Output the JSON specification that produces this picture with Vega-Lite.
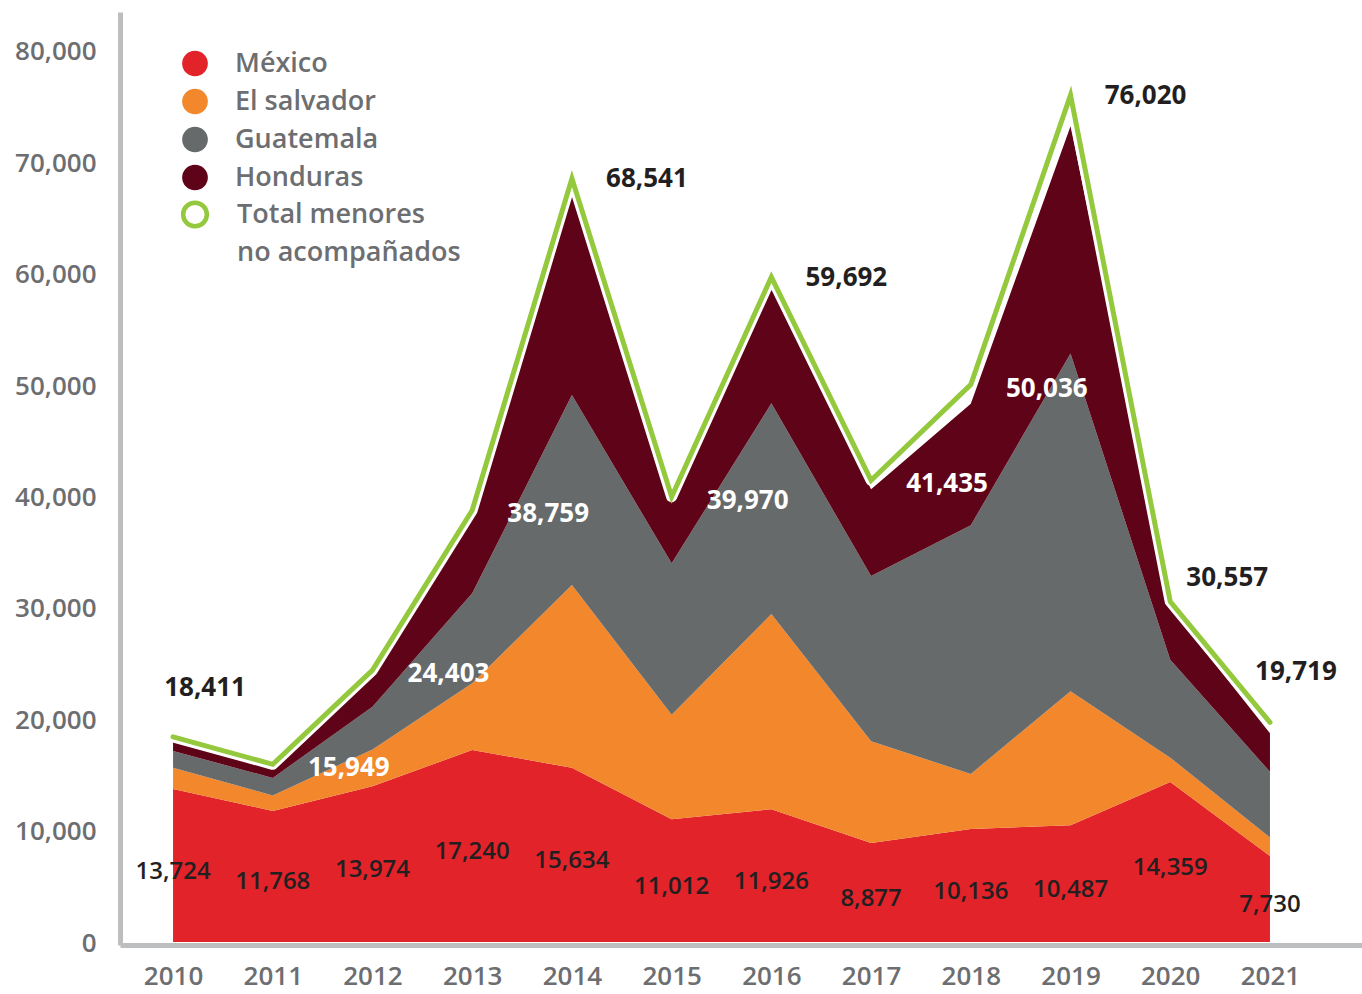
{
  "$schema": "https://vega.github.io/schema/vega-lite/v6.json",
  "width": 1242,
  "height": 933,
  "autosize": {"type": "none"},
  "padding": {"left": 120, "top": 12, "right": 0, "bottom": 49},
  "background": "white",
  "config": {"view": {"stroke": null}, "font": "Open Sans", "style": {"guide-label": {"lineHeight": 38}}},
  "datasets": {
    "d": [
      {"year": 2010, "México": 13724, "El salvador": 1910, "Guatemala": 1517, "Honduras": 968, "Total": 18411},
      {"year": 2011, "México": 11768, "El salvador": 1394, "Guatemala": 1565, "Honduras": 974, "Total": 15949},
      {"year": 2012, "México": 13974, "El salvador": 3314, "Guatemala": 3835, "Honduras": 2997, "Total": 24403},
      {"year": 2013, "México": 17240, "El salvador": 5990, "Guatemala": 8068, "Honduras": 6747, "Total": 38759},
      {"year": 2014, "México": 15634, "El salvador": 16404, "Guatemala": 17057, "Honduras": 18244, "Total": 68541},
      {"year": 2015, "México": 11012, "El salvador": 9389, "Guatemala": 13589, "Honduras": 5409, "Total": 39970},
      {"year": 2016, "México": 11926, "El salvador": 17512, "Guatemala": 18913, "Honduras": 10468, "Total": 59692},
      {"year": 2017, "México": 8877, "El salvador": 9143, "Guatemala": 14827, "Honduras": 7784, "Total": 41435},
      {"year": 2018, "México": 10136, "El salvador": 4949, "Guatemala": 22327, "Honduras": 10913, "Total": 50036},
      {"year": 2019, "México": 10487, "El salvador": 12021, "Guatemala": 30329, "Honduras": 20398, "Total": 76020},
      {"year": 2020, "México": 14359, "El salvador": 2189, "Guatemala": 8786, "Honduras": 4692, "Total": 30557},
      {"year": 2021, "México": 7730, "El salvador": 1650, "Guatemala": 5900, "Honduras": 3460, "Total": 19719}
    ]
  },
  "data": {"name": "d"},
  "encoding": {
    "x": {
      "field": "year",
      "type": "quantitative",
      "scale": {"domain": [2009.468, 2021.923], "nice": false, "zero": false},
      "axis": {
        "values": [2010, 2011, 2012, 2013, 2014, 2015, 2016, 2017, 2018, 2019, 2020, 2021],
        "format": "d",
        "title": null,
        "ticks": false,
        "grid": false,
        "domainColor": "#bcbec0",
        "domainWidth": 5,
        "labelFont": "Open Sans",
        "labelFontSize": 26,
        "labelFontWeight": 600,
        "labelColor": "#6d6e71",
        "labelPadding": 18,
        "labelFlush": false,
        "labelOverlap": false
      }
    }
  },
  "layer": [
    {
      "transform": [
        {"fold": ["México", "El salvador", "Guatemala", "Honduras"], "as": ["country", "value"]},
        {"window": [{"op": "row_number", "as": "stack_rank"}], "groupby": ["year"]}
      ],
      "mark": {"type": "area", "opacity": 1, "interpolate": "linear"},
      "encoding": {
        "y": {
          "field": "value",
          "type": "quantitative",
          "stack": "zero",
          "scale": {"domain": [-269, 83483], "nice": false, "zero": false},
          "axis": {
            "values": [0, 10000, 20000, 30000, 40000, 50000, 60000, 70000, 80000],
            "format": ",.0f",
            "title": null,
            "ticks": false,
            "grid": false,
            "domainColor": "#bcbec0",
            "domainWidth": 5,
            "labelFont": "Open Sans",
            "labelFontSize": 26,
            "labelFontWeight": 600,
            "labelColor": "#6d6e71",
            "labelPadding": 24,
            "labelOffset": 1,
            "labelOverlap": false,
            "labelFlush": false
          }
        },
        "order": {"field": "stack_rank", "type": "quantitative", "sort": "ascending"},
        "color": {
          "field": "country",
          "type": "nominal",
          "scale": {
            "domain": ["México", "El salvador", "Guatemala", "Honduras"],
            "range": ["#e2232a", "#f3872b", "#676a6b", "#5f0418"]
          },
          "legend": {
            "title": null,
            "orient": "none",
            "legendX": 61,
            "legendY": 37.5,
            "padding": 0,
            "symbolType": "circle",
            "symbolSize": 660,
            "symbolOpacity": 1,
            "labelFont": "Open Sans",
            "labelFontSize": 27,
            "labelFontWeight": 600,
            "labelColor": "#6d6e71",
            "labelOffset": 26,
            "labelLimit": 400,
            "rowPadding": 11
          }
        }
      }
    },
    {
      "mark": {"type": "line", "stroke": "#ffffff", "strokeWidth": 11, "strokeJoin": "round", "strokeCap": "round"},
      "encoding": {
        "y": {"field": "Total", "type": "quantitative", "scale": {"domain": [-269, 83483], "nice": false, "zero": false}, "axis": null}
      }
    },
    {
      "mark": {"type": "line", "strokeWidth": 5, "strokeJoin": "miter", "strokeCap": "round"},
      "encoding": {
        "y": {"field": "Total", "type": "quantitative", "scale": {"domain": [-269, 83483], "nice": false, "zero": false}, "axis": null},
        "stroke": {
          "datum": "Total menores no acompañados",
          "type": "nominal",
          "scale": {"domain": ["Total menores no acompañados"], "range": ["#94c83d"]},
          "legend": {
            "title": null,
            "orient": "none",
            "legendX": 60.5,
            "legendY": 188,
            "padding": 0,
            "symbolType": "circle",
            "symbolSize": 560,
            "symbolStrokeWidth": 4.5,
            "symbolFillColor": "#ffffff",
            "symbolOpacity": 1,
            "labelFont": "Open Sans",
            "labelFontSize": 27,
            "labelFontWeight": 600,
            "labelColor": "#6d6e71",
            "labelOffset": 27.5,
            "labelLimit": 400,
            "labelExpr": "datum.label == 'Total menores no acompañados' ? ['Total menores', 'no acompañados'] : datum.label"
          }
        }
      }
    },
    {
      "mark": {"type": "text", "font": "Open Sans", "fontSize": 24, "fontWeight": 600, "color": "#231f20", "align": "center", "baseline": "middle", "dy": 6},
      "encoding": {
        "y": {"field": "México", "type": "quantitative", "scale": {"domain": [-538, 166966], "nice": false, "zero": false}, "axis": null},
        "text": {"field": "México", "type": "quantitative", "format": ","}
      }
    },
    {
      "transform": [{"filter": {"field": "year", "oneOf": [2011, 2012, 2013, 2015, 2017, 2018]}}],
      "mark": {"type": "text", "font": "Open Sans", "fontSize": 26, "fontWeight": 700, "color": "#ffffff", "align": "center", "baseline": "middle", "dx": 76, "dy": 4},
      "encoding": {
        "y": {"field": "Total", "type": "quantitative", "scale": {"domain": [-269, 83483], "nice": false, "zero": false}, "axis": null},
        "text": {"field": "Total", "type": "quantitative", "format": ","}
      }
    },
    {
      "transform": [{"filter": {"field": "year", "oneOf": [2014, 2016, 2019]}}],
      "mark": {"type": "text", "font": "Open Sans", "fontSize": 26, "fontWeight": 700, "color": "#231f20", "align": "center", "baseline": "middle", "dx": 75, "dy": 1},
      "encoding": {
        "y": {"field": "Total", "type": "quantitative", "scale": {"domain": [-269, 83483], "nice": false, "zero": false}, "axis": null},
        "text": {"field": "Total", "type": "quantitative", "format": ","}
      }
    },
    {
      "transform": [{"filter": {"field": "year", "oneOf": [2010]}}],
      "mark": {"type": "text", "font": "Open Sans", "fontSize": 26, "fontWeight": 700, "color": "#231f20", "align": "center", "baseline": "middle", "dx": 32, "dy": -49},
      "encoding": {
        "y": {"field": "Total", "type": "quantitative", "scale": {"domain": [-269, 83483], "nice": false, "zero": false}, "axis": null},
        "text": {"field": "Total", "type": "quantitative", "format": ","}
      }
    },
    {
      "transform": [{"filter": {"field": "year", "oneOf": [2020]}}],
      "mark": {"type": "text", "font": "Open Sans", "fontSize": 26, "fontWeight": 700, "color": "#231f20", "align": "center", "baseline": "middle", "dx": 57, "dy": -24},
      "encoding": {
        "y": {"field": "Total", "type": "quantitative", "scale": {"domain": [-269, 83483], "nice": false, "zero": false}, "axis": null},
        "text": {"field": "Total", "type": "quantitative", "format": ","}
      }
    },
    {
      "transform": [{"filter": {"field": "year", "oneOf": [2021]}}],
      "mark": {"type": "text", "font": "Open Sans", "fontSize": 26, "fontWeight": 700, "color": "#231f20", "align": "center", "baseline": "middle", "dx": 26, "dy": -50},
      "encoding": {
        "y": {"field": "Total", "type": "quantitative", "scale": {"domain": [-269, 83483], "nice": false, "zero": false}, "axis": null},
        "text": {"field": "Total", "type": "quantitative", "format": ","}
      }
    }
  ],
  "resolve": {"scale": {"y": "independent"}}
}
